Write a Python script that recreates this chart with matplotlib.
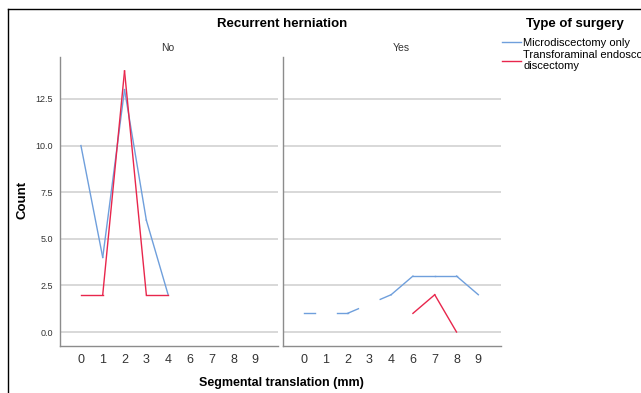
import numpy as np
import matplotlib
matplotlib.use("Agg")
import matplotlib.pyplot as plt
from matplotlib.lines import Line2D

plt.rcParams['font.family'] = ['Liberation Sans', 'DejaVu Sans']

# segmental translation categories (mm) -- 5 does not occur
categories = ['0', '1', '2', '3', '4', '6', '7', '8', '9']
nan = np.nan

# counts per category, recurrent herniation = No
no_micro = [10, 4, 13, 6, 2, nan, nan, nan, nan]
no_endo = [2, 2, 14, 2, 2, nan, nan, nan, nan]
# recurrent herniation = Yes
yes_micro = [1, nan, 1, nan, 2, 3, 3, 3, 2]
yes_endo = [nan, nan, nan, nan, nan, 1, 2, 0, nan]

series_names = ['Microdiscectomy only', 'Transforaminal endoscopic\ndiscectomy']
series_colors = ['#6F9FDC', '#E8264C']
grid_ticks = [0.0, 2.5, 5.0, 7.5, 10.0, 12.5]

W, H = 641, 393


def draw_series(ax, values, color):
    # consecutive categories are joined; across a missing category only the
    # half-steps next to the known points are drawn
    y = np.asarray(values, dtype=float)
    idx = np.where(~np.isnan(y))[0]
    for a, b in zip(idx[:-1], idx[1:]):
        if b == a + 1:
            ax.plot([a, b], [y[a], y[b]], color=color, lw=1.0)
        else:
            xs = np.array([a, a + 0.5, b - 0.5, b])
            ys = np.interp(xs, [a, b], [y[a], y[b]])
            ax.plot(xs[:2], ys[:2], color=color, lw=1.0)
            ax.plot(xs[2:], ys[2:], color=color, lw=1.0)


fig = plt.figure(figsize=(W / 100, H / 100), dpi=100)

def px_axes(x0, x1, ytop, ybot):
    return fig.add_axes([x0 / W, 1 - ybot / H, (x1 - x0) / W, (ybot - ytop) / H])

ax_no = px_axes(60, 278, 57, 346)
ax_yes = px_axes(283, 501, 57, 346)

x = np.arange(len(categories))
for ax, micro, endo in [(ax_no, no_micro, no_endo), (ax_yes, yes_micro, yes_endo)]:
    for t in grid_ticks:
        ax.axhline(t, color='#D2D2D2', lw=1.2, zorder=0)
    draw_series(ax, micro, series_colors[0])
    draw_series(ax, endo, series_colors[1])
    ax.set_xlim(-0.96, 9.04)
    ax.set_ylim(-0.75, 14.75)
    ax.set_xticks(x)
    ax.set_xticklabels(categories, fontsize=9, color='#333333')
    ax.set_yticks(grid_ticks)
    ax.tick_params(axis='x', length=0, pad=6)
    ax.tick_params(axis='y', length=0, pad=5)
    for s in ['top', 'right']:
        ax.spines[s].set_visible(False)
    for s in ['left', 'bottom']:
        ax.spines[s].set_color('#8C8C8C')
        ax.spines[s].set_linewidth(1.0)

ax_no.set_yticklabels([f'{t:.1f}' for t in grid_ticks], fontsize=6.5, color='#333333')
ax_yes.set_yticklabels([])

# titles and axis labels
fig.text(282 / W, 1 - 24 / H, 'Recurrent herniation', ha='center', va='center',
         fontsize=9.5, fontweight='bold')
fig.text(168 / W, 1 - 48 / H, 'No', ha='center', va='center', fontsize=7.5, color='#333333')
fig.text(401 / W, 1 - 48 / H, 'Yes', ha='center', va='center', fontsize=7.5, color='#333333')
fig.text(22 / W, 1 - 200 / H, 'Count', ha='center', va='center', rotation=90,
         fontsize=9.5, fontweight='bold')
fig.text(281 / W, 1 - 383 / H, 'Segmental translation (mm)', ha='center', va='center',
         fontsize=9, fontweight='bold')

# legend
fig.text(575 / W, 1 - 24 / H, 'Type of surgery', ha='center', va='center',
         fontsize=9.5, fontweight='bold')
handles = [Line2D([], [], color=c, lw=1.0) for c in series_colors]
fig.legend(handles, series_names, loc='upper left',
           bbox_to_anchor=(502 / W, 1 - 38 / H), frameon=False,
           fontsize=8, handlelength=1.7, handletextpad=0.2,
           labelspacing=0.15, borderaxespad=0, borderpad=0)

# outer frame (left and top edges)
fig.add_artist(Line2D([8 / W, 8 / W], [0, 1 - 9 / H], color='black', lw=1.0))
fig.add_artist(Line2D([8 / W, 1], [1 - 9 / H, 1 - 9 / H], color='black', lw=1.0))

fig.savefig('out.png', dpi=100)
